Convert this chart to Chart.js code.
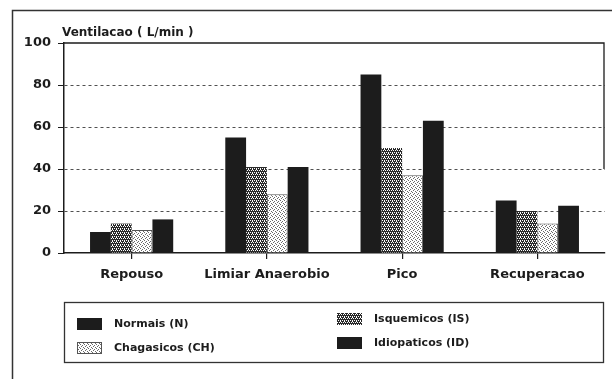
<!DOCTYPE html>
<html>
<head>
<meta charset="utf-8">
<script src="https://cdn.jsdelivr.net/npm/chart.js@4"></script>
<style>
  html, body { margin: 0; padding: 0; background: #fff; }
  canvas { display: block; }
</style>
</head>
<body>
<canvas id="chart" width="612" height="379"></canvas>
<script>
const categories = ['Repouso', 'Limiar Anaerobio', 'Pico', 'Recuperacao'];
const normais = [10, 55, 85, 25];
const isquemicos = [14, 41, 50, 20];
const chagasicos = [11, 28, 37, 14];
const idiopaticos = [16, 41, 63, 22.5];
const yTicks = [0, 20, 40, 60, 80, 100];
const seriesNames = ['Normais (N)', 'Isquemicos (IS)', 'Chagasicos (CH)', 'Idiopaticos (ID)'];
const axisTitle = 'Ventilacao ( L/min )';

const FONT = '"DejaVu Sans", sans-serif';
const INK = '#1c1c1c';

// little stipple tiles for the two dotted series
function makePattern(bg, fg, dots, size) {
  const c = document.createElement('canvas');
  c.width = size; c.height = size;
  const g = c.getContext('2d');
  g.fillStyle = bg;
  g.fillRect(0, 0, size, size);
  g.fillStyle = fg;
  dots.forEach(([x, y]) => g.fillRect(x, y, 1, 1));
  return g.createPattern(c, 'repeat');
}

const darkDots = makePattern('#2a2a2a', '#ffffff', [[0, 0], [2, 0], [1, 2], [3, 2], [0, 1]], 4);
const lightDots = makePattern('#ffffff', '#6a6a6a', [[0, 0], [2, 1], [1, 2], [3, 3]], 4);

// frame, y-axis title and the boxed legend
const decorPlugin = {
  id: 'decor',
  afterDraw(chart) {
    const { ctx, chartArea: a } = chart;
    ctx.save();

    ctx.strokeStyle = '#333';
    ctx.lineWidth = 1.5;
    ctx.beginPath();
    ctx.moveTo(12.5, 379);
    ctx.lineTo(12.5, 10.5);
    ctx.lineTo(612, 10.5);
    ctx.stroke();

    ctx.strokeStyle = INK;
    ctx.lineWidth = 1.3;
    ctx.beginPath();
    ctx.moveTo(a.left, a.top);
    ctx.lineTo(a.right - 1, a.top);
    ctx.lineTo(a.right - 1, a.top + 126);
    ctx.stroke();

    ctx.fillStyle = INK;
    ctx.font = 'bold 12px ' + FONT;
    ctx.textBaseline = 'alphabetic';
    ctx.textAlign = 'left';
    ctx.fillText(axisTitle, a.left - 2, 36);

    // legend box
    ctx.strokeStyle = '#333';
    ctx.lineWidth = 1.3;
    ctx.strokeRect(64.5, 302.5, 539, 60);

    const slots = [
      { x: 77, y: 318, tx: 114 },   // Normais
      { x: 337, y: 313, tx: 374 },  // Isquemicos
      { x: 77, y: 342, tx: 114 },   // Chagasicos
      { x: 337, y: 337, tx: 374 }   // Idiopaticos
    ];
    ctx.font = 'bold 11px ' + FONT;
    ctx.textBaseline = 'middle';
    chart.data.datasets.forEach((ds, i) => {
      const s = slots[i];
      ctx.fillStyle = ds.backgroundColor;
      ctx.fillRect(s.x, s.y, 25, 12);
      if (ds.borderWidth) {
        ctx.strokeStyle = ds.borderColor;
        ctx.lineWidth = 1;
        ctx.strokeRect(s.x + 0.5, s.y + 0.5, 24, 11);
      }
      ctx.fillStyle = INK;
      ctx.fillText(ds.label, s.tx, s.y + 6);
    });

    ctx.restore();
  }
};

new Chart(document.getElementById('chart'), {
  type: 'bar',
  data: {
    labels: categories,
    datasets: [
      { label: seriesNames[0], data: normais, backgroundColor: INK },
      { label: seriesNames[1], data: isquemicos, backgroundColor: darkDots },
      { label: seriesNames[2], data: chagasicos, backgroundColor: lightDots, borderColor: '#555', borderWidth: 1 },
      { label: seriesNames[3], data: idiopaticos, backgroundColor: INK }
    ]
  },
  options: {
    responsive: false,
    animation: false,
    devicePixelRatio: 1,
    layout: { padding: { top: 43, right: 7, left: 0, bottom: 0 } },
    datasets: {
      bar: { categoryPercentage: 0.615, barPercentage: 1, borderWidth: 0, borderSkipped: 'start' }
    },
    scales: {
      x: {
        afterFit: s => { s.height = 126; },
        ticks: {
          color: INK,
          font: { family: FONT, weight: 'bold', size: 13 },
          padding: 8,
          maxRotation: 0
        },
        grid: { offset: false, drawOnChartArea: false, tickLength: 6, tickColor: INK, lineWidth: 1.2 },
        border: { color: INK, width: 1.5 }
      },
      y: {
        min: 0,
        max: 100,
        afterFit: s => { s.width = 64; },
        afterBuildTicks: s => { s.ticks = yTicks.map(v => ({ value: v })); },
        ticks: {
          color: INK,
          font: { family: FONT, weight: 'bold', size: 13 },
          padding: 7
        },
        grid: {
          color: c => (c.tick && c.tick.value > 0 && c.tick.value < 100) ? '#505050' : 'rgba(0,0,0,0)',
          tickColor: INK,
          tickLength: 6,
          lineWidth: 1
        },
        border: { color: INK, width: 1.5, dash: [3, 3] }
      }
    },
    plugins: {
      legend: { display: false },
      tooltip: { enabled: false }
    }
  },
  plugins: [decorPlugin]
});
</script>
</body>
</html>
